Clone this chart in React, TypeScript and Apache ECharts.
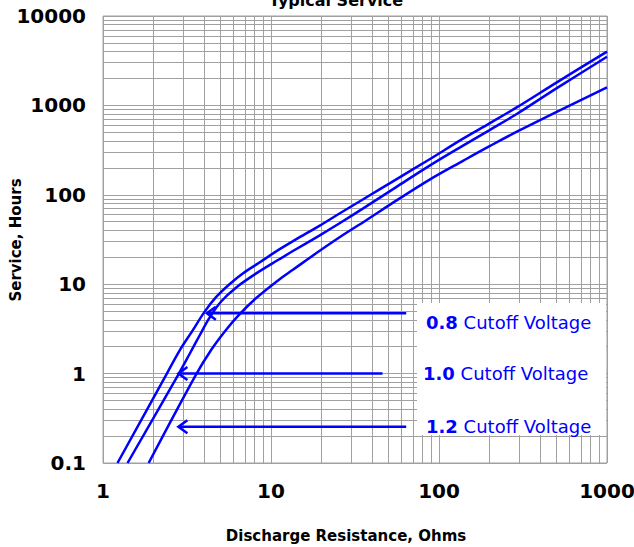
import React, { useEffect, useRef } from "react";
import * as echarts from "echarts";

// Discharge resistance (ohms) vs service (hours)
const cutoff08: [number, number][] = [
  [1.22, 0.1], [2.4, 1.0], [2.85, 1.8], [3.42, 3.05],
  [4.02, 4.9], [4.72, 7.2], [5.66, 10], [6.79, 13.2], [8.54, 17.5], [11.2, 24.5],
  [14, 31.5], [19.4, 45], [26, 63], [35, 88], [56, 150], [88, 250], [139, 425],
  [200, 630], [290, 950], [500, 1800], [1000, 4000],
];
const cutoff10: [number, number][] = [
  [1.4, 0.1], [2.83, 1.0], [3.3, 1.7], [3.75, 2.65], [4.3, 4.2],
  [5.05, 6.4], [6.21, 9.2], [8.17, 13.2], [11.2, 19], [13.5, 23.5], [19.4, 35],
  [25.6, 48], [35.2, 70], [55.6, 122], [88, 212], [139, 355], [200, 530],
  [290, 800], [500, 1550], [1000, 3500],
];
const cutoff12: [number, number][] = [
  [1.87, 0.1], [3.55, 0.95], [4.41, 1.85], [5.41, 3.1], [6.49, 4.6],
  [8.17, 7.0], [11.2, 11.3], [13.5, 14.5], [19.4, 23.5], [25.6, 33.5], [36.9, 52],
  [55.6, 86], [88, 148], [139, 240], [200, 350], [301, 525], [1000, 1590],
];

// Arrows: [tip resistance, service level, tail resistance]
const arrows: [number, number, number][] = [
  [4.15, 4.72, 63.8],
  [2.81, 1.0, 46.1],
  [2.81, 0.255, 63.8],
];

const labelVoltages = ["0.8", "1.0", "1.2"];

// Minor grid values
const xMinorGrid = [2, 3, 4, 5, 6, 7, 8, 9, 20, 30, 40, 50, 60, 70, 80, 90, 200, 300, 400, 500, 600, 700, 800, 900];
const yMinorGrid = [
  0.2, 0.3, 0.4, 0.5, 0.6, 0.7, 0.8, 0.9,
  2, 3, 4, 5, 6, 7, 8, 9,
  20, 30, 40, 50, 60, 70, 80, 90,
  200, 300, 400, 500, 600, 700, 800, 900,
  2000, 3000, 4000, 5000, 6000, 7000, 8000, 9000,
];

const BLUE = "#0000ff";
const GRID = "#a0a0a0";
const FONT = "DejaVu Sans";

const fmt = (v: number) => String(parseFloat(Number(v).toPrecision(6)));

export default function App() {
  const ref = useRef<HTMLDivElement>(null);
  useEffect(() => {
    if (!ref.current) return;
    const chart = echarts.init(ref.current, undefined, { renderer: "svg" });
    const curveStyle = { color: BLUE, width: 2.5 };
    const curve = (name: string, data: [number, number][]) => ({
      name,
      type: "line",
      data,
      showSymbol: false,
      smooth: 0.35,
      z: 5,
      silent: true,
      lineStyle: curveStyle,
      itemStyle: { color: BLUE },
    });
    chart.setOption({
      animation: false,
      backgroundColor: "#ffffff",
      grid: {
        left: 103,
        right: 27,
        top: 16,
        bottom: 84,
        show: true,
        borderColor: GRID,
        borderWidth: 1,
        backgroundColor: "transparent",
        outerBoundsMode: "none",
      },
      xAxis: {
        type: "log",
        logBase: 10,
        min: 1,
        max: 1000,
        axisLine: { show: false },
        axisTick: { show: false },
        splitLine: { show: true, lineStyle: { color: GRID, width: 1 } },
        axisLabel: {
          color: "#000",
          fontWeight: "bold",
          fontSize: 20,
          fontFamily: FONT,
          margin: 18,
          formatter: fmt,
        },
      },
      yAxis: {
        type: "log",
        logBase: 10,
        min: 0.1,
        max: 10000,
        axisLine: { show: false },
        axisTick: { show: false },
        splitLine: { show: true, lineStyle: { color: GRID, width: 1 } },
        axisLabel: {
          color: "#000",
          fontWeight: "bold",
          fontSize: 20,
          fontFamily: FONT,
          margin: 17,
          formatter: fmt,
        },
      },
      series: [
        {
          type: "line",
          data: [],
          z: 1,
          silent: true,
          markLine: {
            silent: true,
            symbol: ["none", "none"],
            label: { show: false },
            lineStyle: { color: GRID, width: 1, type: "solid" },
            emphasis: { disabled: true },
            data: [
              ...xMinorGrid.map((v) => ({ xAxis: v })),
              ...yMinorGrid.map((v) => ({ yAxis: v })),
            ],
          },
        },
        curve("0.8", cutoff08),
        curve("1.0", cutoff10),
        curve("1.2", cutoff12),
        {
          type: "custom",
          z: 6,
          silent: true,
          encode: { x: [0, 2], y: 1 },
          data: arrows,
          renderItem: (params: any, api: any) => {
            const tip = api.coord([api.value(0), api.value(1)]);
            const tail = api.coord([api.value(2), api.value(1)]);
            return {
              type: "group",
              children: [
                {
                  type: "line",
                  shape: { x1: tip[0] + 1, y1: tip[1], x2: tail[0], y2: tail[1] },
                  style: { stroke: BLUE, lineWidth: 2.5 },
                },
                {
                  type: "polyline",
                  shape: {
                    points: [
                      [tip[0] + 9, tip[1] - 6.5],
                      [tip[0], tip[1]],
                      [tip[0] + 9, tip[1] + 6.5],
                    ],
                  },
                  style: { stroke: BLUE, lineWidth: 2.5, fill: "none" },
                },
              ],
            };
          },
        },
      ],
      graphic: [
        {
          type: "text",
          x: 336,
          y: 0,
          style: {
            text: "Typical Service",
            fontFamily: FONT,
            fontWeight: "bold",
            fontSize: 16,
            fill: "#000",
            align: "center",
            verticalAlign: "middle",
          },
        },
        {
          type: "text",
          x: 346,
          y: 536,
          style: {
            text: "Discharge Resistance, Ohms",
            fontFamily: FONT,
            fontWeight: "bold",
            fontSize: 15,
            fill: "#000",
            align: "center",
            verticalAlign: "middle",
          },
        },
        {
          type: "text",
          x: 16,
          y: 240,
          rotation: Math.PI / 2,
          style: {
            text: "Service, Hours",
            fontFamily: FONT,
            fontWeight: "bold",
            fontSize: 15,
            fill: "#000",
            align: "center",
            verticalAlign: "middle",
          },
        },
        {
          type: "rect",
          z: 10,
          shape: { x: 417, y: 303, width: 189, height: 132 },
          style: { fill: "#ffffff" },
        },
        ...labelVoltages.map((v, i) => ({
          type: "text",
          z: 11,
          x: [426, 423, 426][i],
          y: [322, 373, 426][i],
          style: {
            text: `{b|${v}} Cutoff Voltage`,
            fontFamily: FONT,
            fontSize: 18,
            fill: BLUE,
            verticalAlign: "middle",
            rich: {
              b: { fontWeight: "bold", fontFamily: FONT, fontSize: 18, fill: BLUE },
            },
          },
        })),
      ],
    });
    return () => chart.dispose();
  }, []);
  return (
    <div
      ref={ref}
      style={{ position: "fixed", left: 0, top: 0, width: 634, height: 547, background: "#fff" }}
    />
  );
}
